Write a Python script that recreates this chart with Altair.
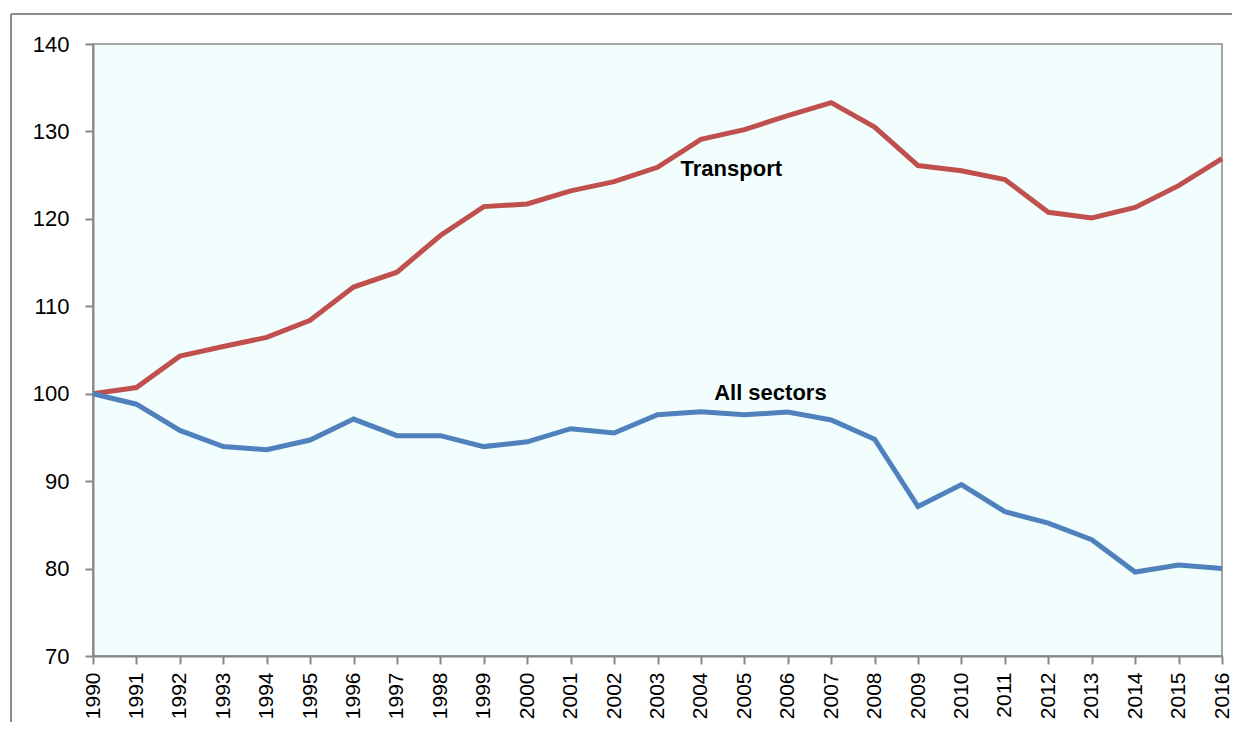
import altair as alt
import pandas as pd

years = list(range(1990, 2017))
transport = [100.0, 100.7, 104.3, 105.4, 106.45, 108.4, 112.2, 113.9, 118.1, 121.4,
             121.7, 123.2, 124.25, 125.9, 129.1, 130.2, 131.8, 133.3, 130.5, 126.1,
             125.5, 124.5, 120.75, 120.1, 121.3, 123.8, 126.9]
all_sectors = [100.0, 98.8, 95.8, 93.95, 93.6, 94.7, 97.1, 95.2, 95.2, 93.95,
               94.5, 96.0, 95.5, 97.6, 97.95, 97.6, 97.9, 97.0, 94.8, 87.1,
               89.6, 86.5, 85.2, 83.3, 79.6, 80.4, 80.0]
series_names = ["Transport", "All sectors"]
series_colors = ["#C0504D", "#4F81BD"]
label_text = ["Transport", "All sectors"]
label_year = [2004.7, 2005.6]
label_value = [125.7, 100.1]
y_ticks = [70, 80, 90, 100, 110, 120, 130, 140]

rows = []
for y, t, a in zip(years, transport, all_sectors):
    rows.append({"year": y, "value": t, "series": "Transport"})
    rows.append({"year": y, "value": a, "series": "All sectors"})
df = pd.DataFrame(rows)
labels = pd.DataFrame({"text": label_text, "year": label_year, "value": label_value})

FONT = "Liberation Sans Narrow, Arial Narrow, Liberation Sans, Arial"

x_enc = alt.X("year:Q", scale=alt.Scale(domain=[1990, 2016], nice=False, zero=False),
              axis=alt.Axis(values=years, format="d", labelAngle=-90, labelAlign="right",
                            labelBaseline="middle", labelFontSize=21, labelFont=FONT,
                            labelColor="#000000", tickSize=8, tickColor="#868686",
                            domainColor="#868686", domainWidth=2, tickWidth=2,
                            labelPadding=8, grid=False, title=None))
y_enc = alt.Y("value:Q", scale=alt.Scale(domain=[70, 140], nice=False, zero=False),
              axis=alt.Axis(values=y_ticks, labelFontSize=22, labelFont=FONT,
                            labelColor="#000000", tickSize=8, tickColor="#868686",
                            domainColor="#868686", domainWidth=2, tickWidth=2,
                            labelPadding=16, grid=False, title=None))

lines = alt.Chart(df).mark_line(strokeWidth=5).encode(
    x=x_enc, y=y_enc,
    color=alt.Color("series:N", scale=alt.Scale(domain=series_names, range=series_colors),
                    legend=None),
)

text = alt.Chart(labels).mark_text(fontSize=22, fontWeight="bold", font=FONT,
                                   color="#000000").encode(
    x="year:Q", y="value:Q", text="text:N"
)

frame_left = alt.Chart(labels).mark_rule(color="#8a8a8a", strokeWidth=2, clip=False).encode(
    x=alt.value(-82), y=alt.value(-30), y2=alt.value(700)
)
frame_top = alt.Chart(labels).mark_rule(color="#8a8a8a", strokeWidth=2, clip=False).encode(
    x=alt.value(-82), x2=alt.value(1150), y=alt.value(-30)
)

chart = alt.layer(frame_left, frame_top, lines, text).properties(
    width=1129, height=612,
    background="#FFFFFF",
    autosize=alt.AutoSizeParams(type="none"),
    padding={"left": 85, "top": 36, "right": 10, "bottom": 66},
).configure_view(
    fill="#F2FEFE", stroke="#8a8a8a", strokeWidth=1.5
)

chart.save("out.html", embed_options={"renderer": "svg", "actions": False})
